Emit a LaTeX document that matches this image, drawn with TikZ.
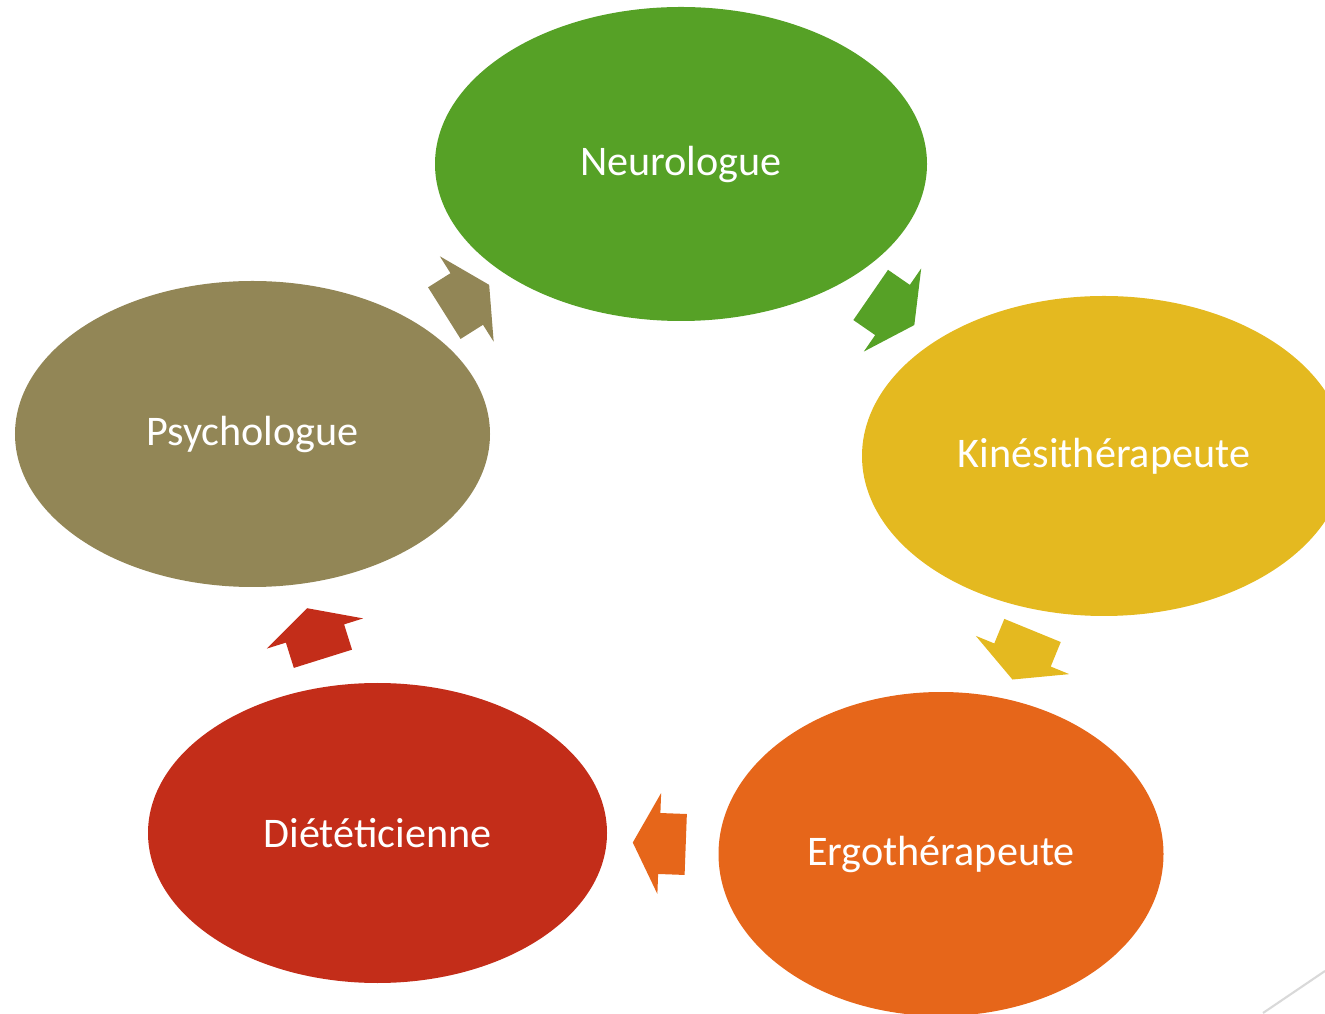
\documentclass[tikz,border=0pt]{standalone}
\usepackage{fontspec}
\setmainfont{Carlito}
\usetikzlibrary{shapes.geometric,calc}

\definecolor{neurogreen}{RGB}{86,161,38}
\definecolor{kineyellow}{RGB}{228,185,32}
\definecolor{ergoorange}{RGB}{230,102,26}
\definecolor{dietred}{RGB}{195,45,25}
\definecolor{psyolive}{RGB}{146,134,86}

\tikzset{
  metier/.style={ellipse, inner sep=0pt, text=white, font=\fontsize{12}{14}\selectfont},
  pics/flecheboite/.style={code={
    \fill [#1] (-0.265,-0.305) -- (0,-0.305) -- (0,-0.505) -- (0.265,0)
      -- (0,0.505) -- (0,0.305) -- (-0.265,0.305) -- cycle;
  }}
}

\newcommand{\fleche}[3]{%
  \path let \p1=(#1.center), \p2=(#2.center), \n1={atan2(\y2-\y1,\x2-\x1)} in
    ($(#1.center)!0.5!(#2.center)$) pic [rotate=\n1] {flecheboite=#3};
}

\begin{document}
\begin{tikzpicture}
\clip (0,0) rectangle (13.25,10.13);

\coordinate (N) at (6.81,8.49);
\coordinate (K) at (11.04,5.57);
\coordinate (E) at (9.41,1.59);
\coordinate (D) at (3.775,1.80);
\coordinate (P) at (2.525,5.79);

\node [metier, fill=neurogreen, minimum width=4.92cm, minimum height=3.14cm] (neuro) at (N) {Neurologue};
\node [metier, fill=kineyellow, minimum width=4.84cm, minimum height=3.20cm] (kine) at (K) {Kinésithérapeute};
\node [metier, fill=ergoorange, minimum width=4.45cm, minimum height=3.24cm] (ergo) at (E) {Ergothérapeute};
\node [metier, fill=dietred, minimum width=4.59cm, minimum height=3.00cm] (diet) at (D) {Diététicienne};
\node [metier, fill=psyolive, minimum width=4.75cm, minimum height=3.06cm] (psy) at (P) {Psychologue};

\fleche{neuro}{kine}{neurogreen}
\fleche{kine}{ergo}{kineyellow}
\fleche{ergo}{diet}{ergoorange}
\fleche{diet}{psy}{dietred}
\fleche{psy}{neuro}{psyolive}

\draw [black!15, line width=0.6pt] (12.63,0) -- (13.25,0.42);

\end{tikzpicture}
\end{document}
